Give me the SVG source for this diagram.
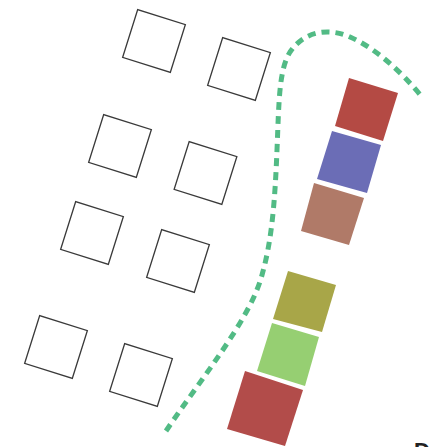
<svg xmlns="http://www.w3.org/2000/svg" width="433" height="447" viewBox="0 0 433 447">
<style>
.box{fill:none;stroke:#3a3a3a;stroke-width:1.3}
.path{fill:none;stroke:#52bb85;stroke-width:5;stroke-dasharray:8 6}
</style>
<defs><rect id="sq" x="-25" y="-25" width="50" height="50"/></defs>
<rect width="433" height="447" fill="#fff"/>
<g id="building-a"><use href="#sq" class="box" transform="translate(154,41) rotate(17.5)"/></g>
<g id="building-b"><use href="#sq" class="box" transform="translate(239,69) rotate(17.5)"/></g>
<g id="building-c"><use href="#sq" class="box" transform="translate(120,146) rotate(17.5)"/></g>
<g id="building-d"><use href="#sq" class="box" transform="translate(205.5,173) rotate(17.5)"/></g>
<g id="building-e"><use href="#sq" class="box" transform="translate(92,233) rotate(17.5)"/></g>
<g id="building-f"><use href="#sq" class="box" transform="translate(178,261) rotate(17.5)"/></g>
<g id="building-g"><use href="#sq" class="box" transform="translate(56,347) rotate(17.5)"/></g>
<g id="building-h"><use href="#sq" class="box" transform="translate(141,375) rotate(17.5)"/></g>
<g id="colored">
<polygon id="red-1" points="349,78 398,93 383,141 335,126" fill="#b44a44"/>
<polygon id="blue" points="332,131 381,145 367,193 317,179" fill="#6b6db6"/>
<polygon id="brown" points="314,183 364,198 349,245 301,231" fill="#b07a68"/>
<polygon id="olive" points="288,271 336,285 322,332 273,319" fill="#a8a648"/>
<polygon id="light-green" points="272,323 319,337 305,386 257,371" fill="#96cf72"/>
<polygon id="red-2" points="245,371 303,390 285,446 227,429" fill="#b24c4a"/>
</g>
<g id="connectors">
<path class="path" d="M166,431 C200,380 250,320 262,275 C272,240 275,200 277,150 C279,100 279,70 290,52 C305,30 330,28 350,37 C375,48 400,70 422,97"/>
</g>
<text x="414" y="458" font-family="Liberation Sans, sans-serif" font-size="22" font-weight="bold" fill="#222">D</text>
</svg>
